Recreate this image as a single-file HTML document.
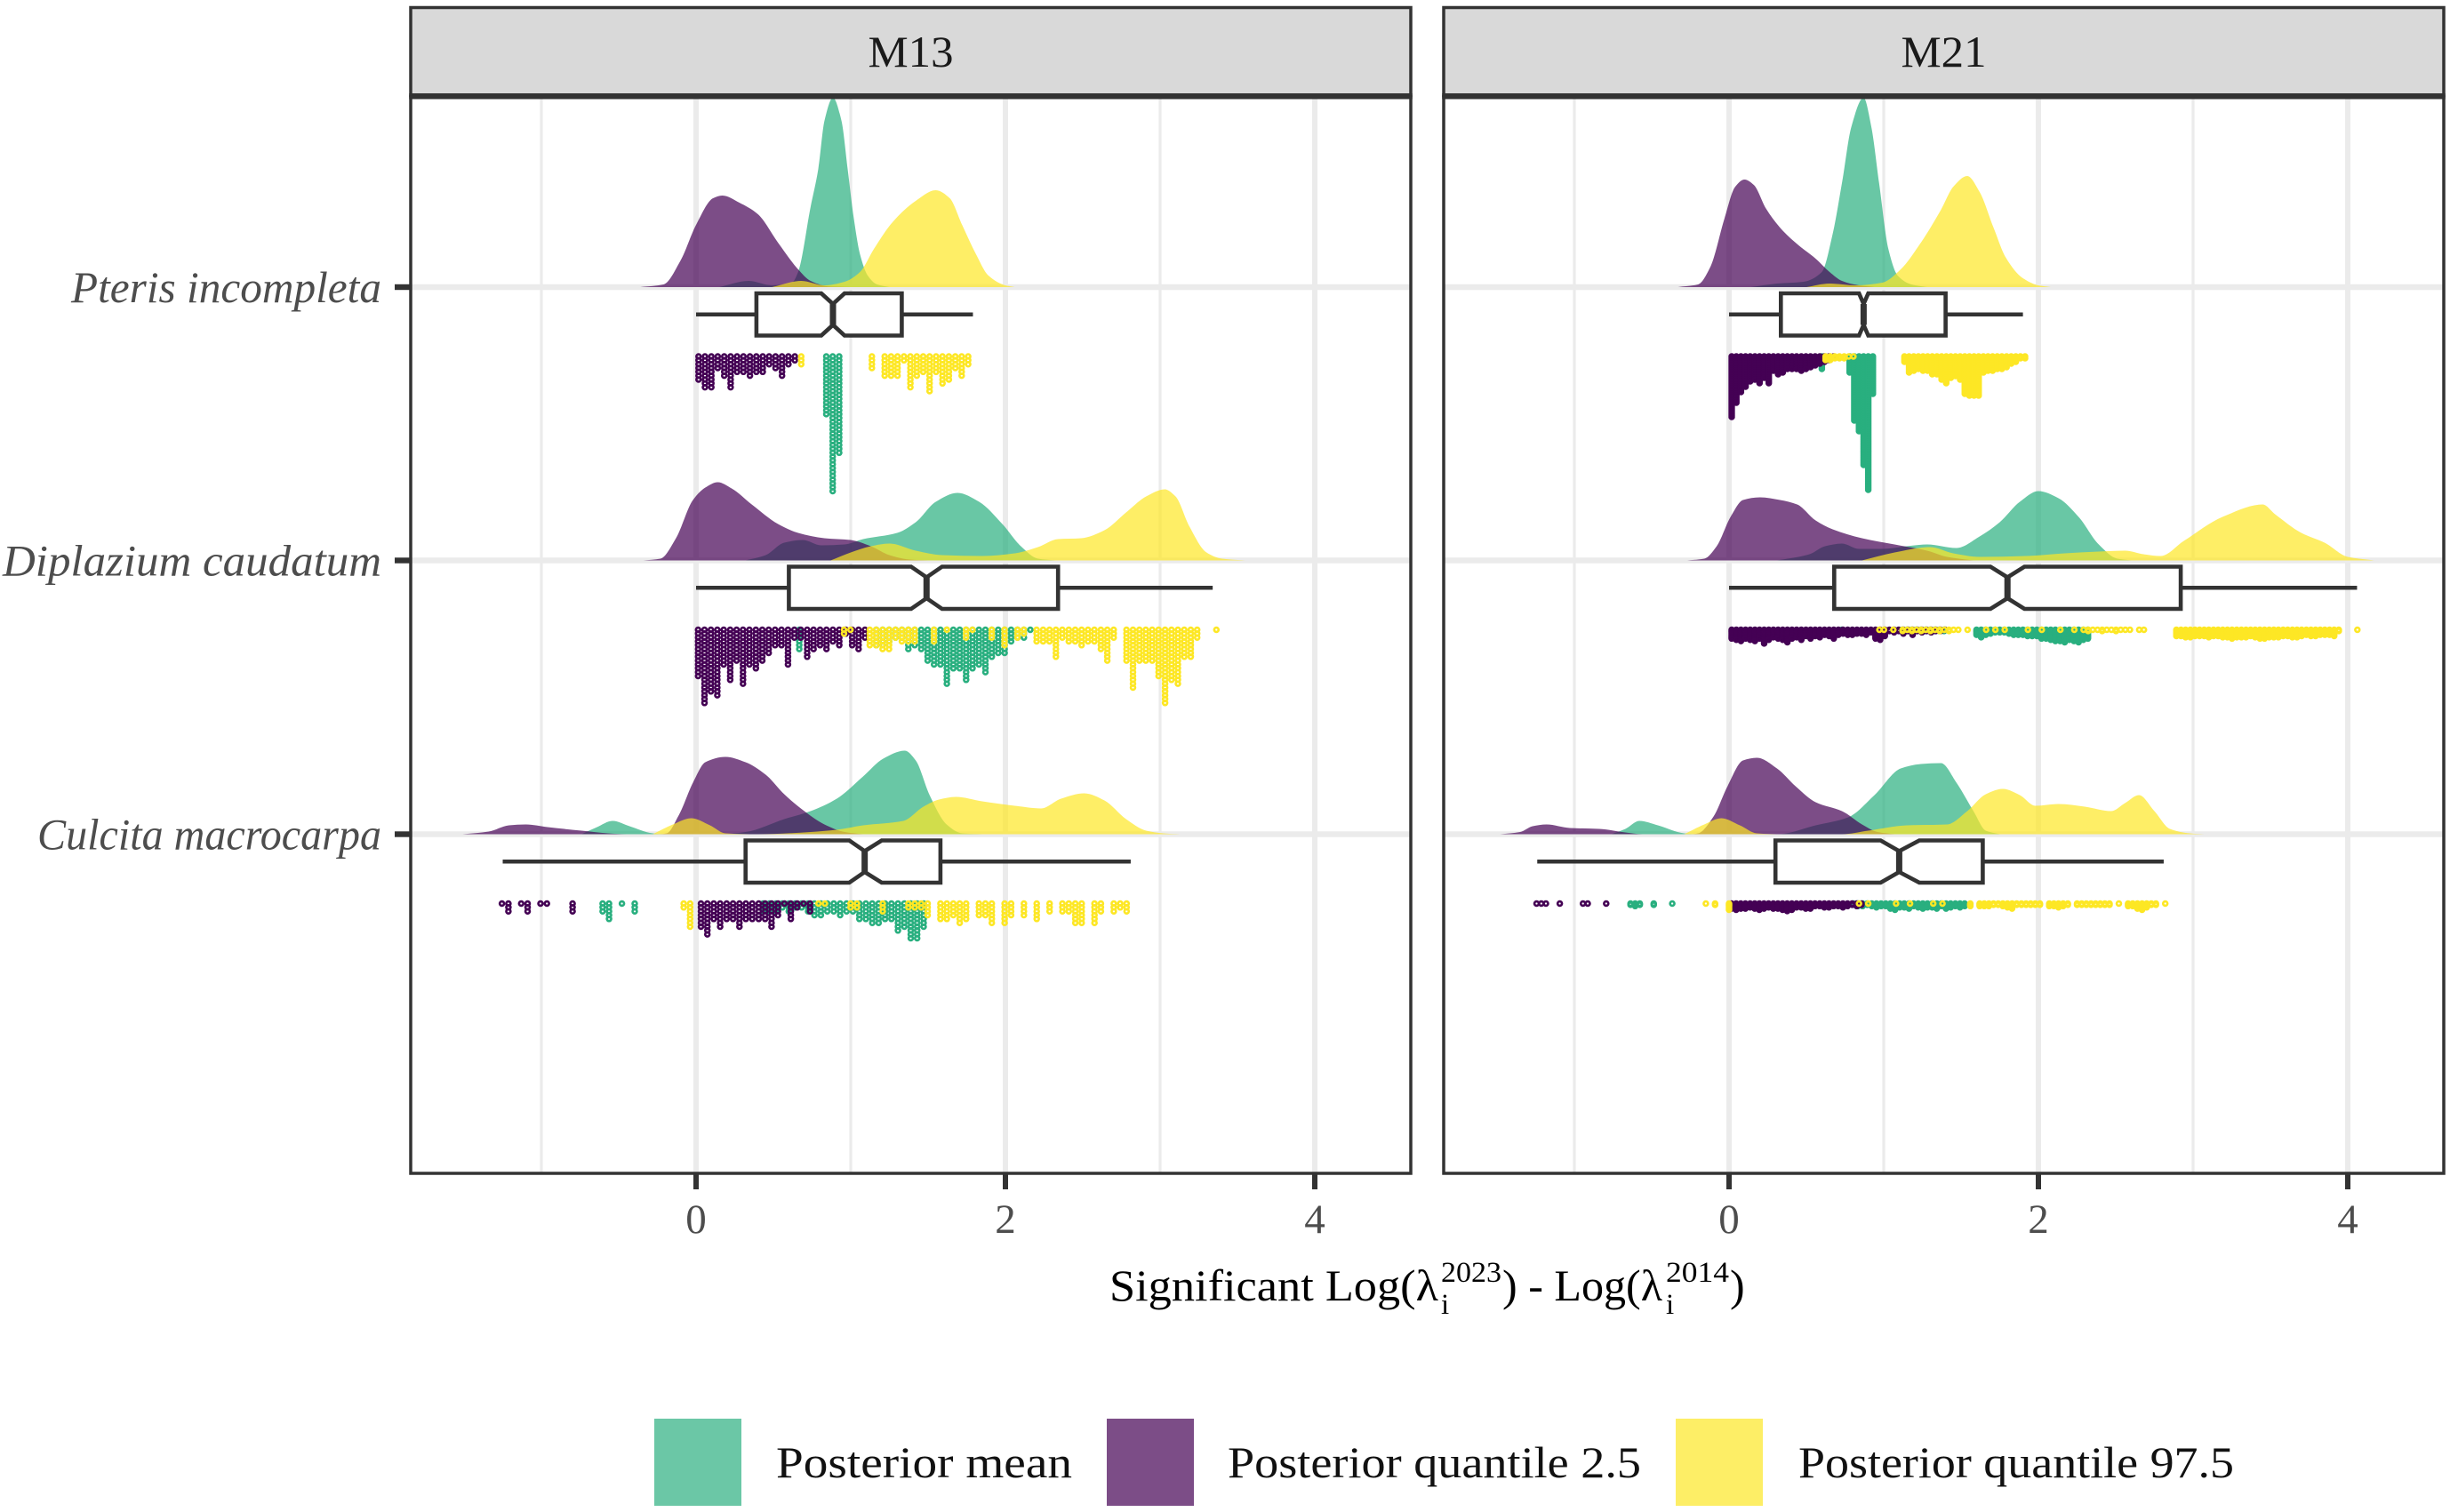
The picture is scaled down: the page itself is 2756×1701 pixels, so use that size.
<!DOCTYPE html>
<html lang="en">
<head>
<meta charset="utf-8">
<title>Significant log lambda differences by species and model</title>
<style>
html,body{margin:0;padding:0;background:#fff;}
svg{display:block;}
text{font-family:"Liberation Serif","DejaVu Serif",serif;}
</style>
</head>
<body>
<svg id="chart" xmlns="http://www.w3.org/2000/svg" width="2756" height="1701" viewBox="0 0 2756 1701">
  <rect x="0" y="0" width="2756" height="1701" fill="#ffffff"/>
  <g id="panels"></g>
  <text x="1248" y="1463" font-size="50" fill="#000" textLength="370" lengthAdjust="spacingAndGlyphs">Significant Log(λ</text>
  <text x="1621" y="1442" font-size="33" fill="#000" textLength="68" lengthAdjust="spacingAndGlyphs">2023</text>
  <text x="1621" y="1478" font-size="33" fill="#000">i</text>
  <text x="1690" y="1463" font-size="50" fill="#000" textLength="180" lengthAdjust="spacingAndGlyphs">) - Log(λ</text>
  <text x="1874" y="1442" font-size="33" fill="#000" textLength="71" lengthAdjust="spacingAndGlyphs">2014</text>
  <text x="1874" y="1478" font-size="33" fill="#000">i</text>
  <text x="1946" y="1463" font-size="50" fill="#000">)</text>
  <g>
    <rect x="736" y="1596" width="98" height="98" fill="#6BC7A6"/>
    <text x="873" y="1662" font-size="50" fill="#111" textLength="333" lengthAdjust="spacingAndGlyphs">Posterior mean</text>
    <rect x="1245" y="1596" width="98" height="98" fill="#7C4D87"/>
    <text x="1381" y="1662" font-size="50" fill="#111" textLength="465" lengthAdjust="spacingAndGlyphs">Posterior quantile 2.5</text>
    <rect x="1885" y="1596" width="98" height="98" fill="#FDEE66"/>
    <text x="2023" y="1662" font-size="50" fill="#111" textLength="490" lengthAdjust="spacingAndGlyphs">Posterior quantile 97.5</text>
  </g>
</svg>
<script>
/* ---------- categories ---------- */
const facets = ['M13','M21'];
const speciesNames = ['Pteris incompleta','Diplazium caudatum','Culcita macrocarpa'];
const seriesNames = ['mean','q025','q975'];
const xMajorTicks = [0,2,4];
const xMinorTicks = [-1,1,3];

/* ---------- density curves: x value, ridge height ---------- */
const m13PterisMeanX = [0.15,0.34,0.49,0.62,0.66,0.74,0.79,0.83,0.885,0.94,0.98,1.02,1.06,1.11,1.17,1.25];
const m13PterisMeanH = [0,7,2,5,17,90,133,187,213,187,133,77,37,13,3,0];
const m13PterisLowX = [-0.36,-0.21,-0.1,0,0.11,0.17,0.28,0.4,0.53,0.66,0.74,0.87,1.0];
const m13PterisLowH = [0,3,30,70,100,103,95,82,50,20,7,0.5,0];
const m13PterisHighX = [0.49,0.68,0.83,0.96,1.06,1.15,1.27,1.42,1.55,1.64,1.72,1.81,1.89,2.0,2.06];
const m13PterisHighH = [0,7,2,6,17,43,73,97,109,100,70,37,13,2,0];

const m13DiplaziumMeanX = [0.32,0.45,0.57,0.69,0.81,0.96,1.08,1.3,1.42,1.55,1.69,1.83,1.98,2.1,2.21,2.32];
const m13DiplaziumMeanH = [0,6,20,23,17,18,24,31,43,66,76,66,41,16,2,0];
const m13DiplaziumLowX = [-0.34,-0.23,-0.13,-0.02,0.06,0.14,0.23,0.36,0.53,0.66,0.83,1.0,1.13,1.25,1.38,1.5];
const m13DiplaziumLowH = [0,2,25,68,82,88,81,63,41,31,25,23,16,6,1,0];
const m13DiplaziumHighX = [0.87,1.0,1.13,1.25,1.42,1.59,1.85,2.06,2.21,2.34,2.49,2.64,2.78,2.91,3.03,3.1,3.19,3.3,3.4,3.55];
const m13DiplaziumHighH = [0,9,16,19,11,6,5,8,15,24,25,34,54,72,80,72,38,9,2,0];

const m13CulcitaMeanX = [-0.74,-0.64,-0.54,-0.43,-0.28,-0.19,0.15,0.32,0.57,0.74,0.91,1.08,1.21,1.35,1.42,1.51,1.62,1.72,1.85];
const m13CulcitaMeanH = [0,8,15,9,1,0,0,2.5,17,26,40,65,85,94,83,44,11,1,0];
const m13CulcitaLowX = [-1.51,-1.34,-1.21,-1.1,-0.96,-0.74,-0.57,-0.45,-0.24,-0.19,-0.11,-0.02,0.06,0.19,0.32,0.45,0.57,0.7,0.83,0.96,1.08];
const m13CulcitaLowH = [0,3,10,11,8,4,1,0,0,1,22,58,81,87,81,67,45,26,11,2.5,0];
const m13CulcitaHighX = [-0.28,-0.15,-0.03,0.09,0.19,0.4,0.74,0.91,1.08,1.34,1.47,1.57,1.68,1.85,2.06,2.23,2.36,2.51,2.64,2.78,2.91,3.02,3.13];
const m13CulcitaHighH = [0,11,18,10,1,0,2.5,5,10,15,31,39,42,37,32,29,40,46,38,17,4,1,0];

const m21PterisMeanX = [0.14,0.31,0.48,0.6,0.67,0.73,0.79,0.87,0.92,0.97,1.03,1.09,1.18,1.28];
const m21PterisMeanH = [0,4,6,17,60,117,180,213,180,117,43,13,3,0];
const m21PterisLowX = [-0.33,-0.2,-0.12,-0.03,0.04,0.1,0.16,0.24,0.35,0.45,0.56,0.65,0.73,0.84,0.94];
const m21PterisLowH = [0,3,23,77,113,121,115,88,63,47,32,17,7,2,0];
const m21PterisHighX = [0.5,0.65,0.82,0.99,1.11,1.24,1.37,1.45,1.54,1.62,1.71,1.79,1.9,2.0,2.08];
const m21PterisHighH = [0,4,2,5,20,50,87,113,125,107,67,33,10,2,0];

const m21DiplaziumMeanX = [0.31,0.52,0.62,0.73,0.84,0.99,1.15,1.28,1.47,1.62,1.75,1.88,2.0,2.13,2.26,2.39,2.51,2.6];
const m21DiplaziumMeanH = [0,7,16,19,13,13,16,18,14,27,43,66,78,70,49,18,2,0];
const m21DiplaziumLowX = [-0.27,-0.16,-0.08,0.01,0.09,0.2,0.33,0.44,0.56,0.67,0.86,1.07,1.28,1.41,1.58];
const m21DiplaziumLowH = [0,2,16,49,68,71,68,63,45,35,25,18,11,4,0];
const m21DiplaziumHighX = [0.86,1.07,1.3,1.45,1.62,1.92,2.17,2.39,2.56,2.68,2.79,2.94,3.19,3.45,3.53,3.7,3.85,4.0,4.17];
const m21DiplaziumHighH = [0,9,15,8,4,5,8,10,11,7,5,22,49,63,52,31,20,4,0];

const m21CulcitaMeanX = [-0.76,-0.67,-0.58,-0.46,-0.29,-0.2,0.31,0.56,0.77,0.94,1.11,1.24,1.37,1.47,1.58,1.66,1.75];
const m21CulcitaMeanH = [0,6,15,10,1,0,0,10,19,44,74,79,80,58,26,4,0];
const m21CulcitaLowX = [-1.48,-1.35,-1.27,-1.18,-1.03,-0.84,-0.67,-0.56,-0.25,-0.2,-0.1,-0.01,0.09,0.18,0.31,0.43,0.56,0.73,0.86,0.96,1.07];
const m21CulcitaLowH = [0,2.5,9,11,7,6,2,0,0,1,20,54,83,86,74,54,36,26,11,2.5,0];
const m21CulcitaHighX = [-0.29,-0.16,-0.05,0.07,0.18,0.35,0.73,0.9,1.15,1.41,1.54,1.66,1.77,1.88,1.98,2.13,2.3,2.47,2.56,2.65,2.75,2.85,2.98,3.07];
const m21CulcitaHighH = [0,11,18,10,1,0,0,4,10,11,26,45,51,44,32,34,31,26,35,44,26,6,1,0];

/* ---------- boxplots: low whisker, Q1, notch low, median, notch high, Q3, high whisker ---------- */
const m13PterisBox = [0,0.39,0.81,0.885,0.96,1.33,1.79];
const m13DiplaziumBox = [0,0.6,1.39,1.49,1.59,2.34,3.34];
const m13CulcitaBox = [-1.25,0.32,0.99,1.09,1.2,1.58,2.81];
const m21PterisBox = [0,0.335,0.84,0.87,0.9,1.4,1.9];
const m21DiplaziumBox = [0,0.68,1.69,1.8,1.91,2.92,4.06];
const m21CulcitaBox = [-1.24,0.3,0.98,1.1,1.23,1.64,2.81];

/* ---------- dot stacks: first bin value, then dot count per bin ---------- */
const m13PterisMeanDotStart = 0.842;
const m13PterisMeanDots = [16,36,26];
const m13PterisLowDotStart = 0.016;
const m13PterisLowDots = [7,9,9,4,6,9,5,5,6,5,5,3,4,6,3,2];
const m13PterisHighDotStart = 0.68;
const m13PterisHighDots = [3,0,0,0,0,0,0,0,0,0,0,4,0,6,6,6,2,9,6,5,10,5,8,7,4,6,3];

const m13DiplaziumMeanDotStart = 0.667;
const m13DiplaziumMeanDots = [6,0,0,0,0,0,0,0,0,0,0,0,5,5,4,3,3,6,5,6,9,10,10,15,11,11,14,11,10,12,8,7,7,4,3,3,1];
const m13DiplaziumLowDotStart = 0.013;
const m13DiplaziumLowDots = [13,20,17,18,10,14,9,15,10,11,9,7,5,5,10,3,3,8,6,5,6,4,5,2,5,6,3];
const m13DiplaziumHighDotStart = 0.957;
const m13DiplaziumHighDots = [2,1,0,0,5,5,6,6,3,4,4,4,0,0,4,0,1,0,0,3,1,0,0,3,0,5,0,3,2,0,4,4,4,8,3,4,4,5,4,4,6,9,3,0,9,16,9,9,9,13,20,14,15,8,8,3,0,0,1];

const m13CulcitaMeanDotStart = -0.604;
const m13CulcitaMeanDots = [3,5,0,1,0,3,0,0,0,0,0,0,0,0,0,0,0,0,0,0,0,0,0,0,0,3,3,3,2,3,2,2,3,4,4,3,3,4,3,3,5,5,6,6,5,5,8,7,10,10,7];
const m13CulcitaLowDotStart = -1.255;
const m13CulcitaLowDots = [1,3,0,1,3,0,1,1,0,0,0,3,0,0,0,0,0,0,0,0,0,0,0,0,0,0,0,0,0,0,0,7,9,5,7,5,5,7,5,5,5,5,7,4,1,5,2,1,3];
const m13CulcitaHighDotStart = -0.08;
const m13CulcitaHighDots = [2,7,0,0,0,0,0,0,0,0,0,0,0,0,0,0,0,0,0,0,0,1,1,0,0,0,2,2,0,0,0,3,0,0,0,2,2,2,4,0,5,5,4,6,5,0,4,4,6,0,6,4,0,4,0,5,0,3,0,3,3,6,6,0,6,3,0,3,2,3];

const m21PterisMeanDotStart = 0.6;
const m21PterisMeanDots = [8,0,0,0,0,0,10,37,43,62,76,22];
const m21PterisLowDotStart = 0.017;
const m21PterisLowDots = [35,27,21,18,15,14,16,13,16,9,11,10,8,8,8,9,8,7,6,5,4,3,1];
const m21PterisHighDotStart = 0.624;
const m21PterisHighDots = [3,3,2,2,2,1,1,0,0,0,0,0,0,0,0,0,0,4,10,9,8,9,9,11,11,14,16,13,12,14,22,23,23,23,10,9,9,8,8,7,5,4,2,2];

const m21DiplaziumMeanDotStart = 0.73;
const m21DiplaziumMeanDots = [2,0,0,0,0,0,0,0,0,0,0,0,0,2,2,2,2,2,2,2,2,2,2,0,0,0,0,0,0,5,7,5,4,3,3,3,4,5,5,5,6,6,6,8,8,9,10,10,11,9,10,11,9,8];
const m21DiplaziumLowDotStart = 0.017;
const m21DiplaziumLowDots = [8,9,10,8,9,10,8,12,9,7,8,9,11,8,7,9,6,8,6,7,5,6,8,5,4,5,5,4,4,5,3,8,9,6,2,3,2,4,2,5,2,3,2,3,2,2,1];
const m21DiplaziumHighDotStart = 0.972;
const m21DiplaziumHighDots = [1,1,0,1,0,2,1,2,1,2,1,2,1,2,1,2,1,1,0,1,0,0,0,1,0,1,0,1,0,0,0,0,1,0,0,1,0,0,0,1,0,0,1,0,1,2,1,1,2,1,1,2,1,1,1,0,1,1,0,0,0,0,0,0,6,6,7,7,6,6,6,7,6,6,7,7,8,7,7,7,6,7,8,8,7,7,7,6,6,7,7,6,5,6,6,5,5,5,6,2,0,0,0,1];

const m21CulcitaMeanDotStart = -0.637;
const m21CulcitaMeanDots = [2,3,2,0,0,2,0,0,0,1,0,0,0,0,0,0,0,0,0,0,0,0,0,0,0,0,0,0,0,0,0,0,0,0,0,0,0,0,0,0,0,0,0,0,0,0,0,0,2,3,3,2,3,4,3,3,5,6,4,4,5,3,4,5,4,4,5,3,5,4,3,4,3];
const m21CulcitaLowDotStart = -1.244;
const m21CulcitaLowDots = [1,1,1,0,0,1,0,0,0,0,1,1,0,0,0,1,0,0,0,0,0,0,0,0,0,0,0,0,0,0,0,0,0,0,0,0,0,0,0,0,0,0,5,6,5,5,4,5,6,5,4,5,5,6,7,6,4,4,5,5,3,3,4,4,3,3,4,3,2,3,2];
const m21CulcitaHighDotStart = -0.15;
const m21CulcitaHighDots = [1,0,2,0,0,6,0,0,0,0,0,0,0,0,0,0,0,0,0,0,0,0,0,0,0,0,0,0,0,0,0,0,0,1,0,1,0,0,0,0,0,1,0,0,1,0,0,0,0,1,0,1,0,0,0,0,0,3,0,3,3,3,2,2,3,4,5,2,2,2,2,2,2,0,3,3,4,3,2,0,2,2,2,2,2,2,2,2,0,1,0,3,3,5,6,4,2,2,0,1];

/* ---------- lookup tables referencing the arrays above ---------- */
const curveTable = [
  [[[m13PterisMeanX,m13PterisMeanH],[m13PterisLowX,m13PterisLowH],[m13PterisHighX,m13PterisHighH]],
   [[m13DiplaziumMeanX,m13DiplaziumMeanH],[m13DiplaziumLowX,m13DiplaziumLowH],[m13DiplaziumHighX,m13DiplaziumHighH]],
   [[m13CulcitaMeanX,m13CulcitaMeanH],[m13CulcitaLowX,m13CulcitaLowH],[m13CulcitaHighX,m13CulcitaHighH]]],
  [[[m21PterisMeanX,m21PterisMeanH],[m21PterisLowX,m21PterisLowH],[m21PterisHighX,m21PterisHighH]],
   [[m21DiplaziumMeanX,m21DiplaziumMeanH],[m21DiplaziumLowX,m21DiplaziumLowH],[m21DiplaziumHighX,m21DiplaziumHighH]],
   [[m21CulcitaMeanX,m21CulcitaMeanH],[m21CulcitaLowX,m21CulcitaLowH],[m21CulcitaHighX,m21CulcitaHighH]]]
];
const boxTable = [[m13PterisBox,m13DiplaziumBox,m13CulcitaBox],[m21PterisBox,m21DiplaziumBox,m21CulcitaBox]];
const dotTable = [
  [[[m13PterisMeanDotStart,m13PterisMeanDots],[m13PterisLowDotStart,m13PterisLowDots],[m13PterisHighDotStart,m13PterisHighDots]],
   [[m13DiplaziumMeanDotStart,m13DiplaziumMeanDots],[m13DiplaziumLowDotStart,m13DiplaziumLowDots],[m13DiplaziumHighDotStart,m13DiplaziumHighDots]],
   [[m13CulcitaMeanDotStart,m13CulcitaMeanDots],[m13CulcitaLowDotStart,m13CulcitaLowDots],[m13CulcitaHighDotStart,m13CulcitaHighDots]]],
  [[[m21PterisMeanDotStart,m21PterisMeanDots],[m21PterisLowDotStart,m21PterisLowDots],[m21PterisHighDotStart,m21PterisHighDots]],
   [[m21DiplaziumMeanDotStart,m21DiplaziumMeanDots],[m21DiplaziumLowDotStart,m21DiplaziumLowDots],[m21DiplaziumHighDotStart,m21DiplaziumHighDots]],
   [[m21CulcitaMeanDotStart,m21CulcitaMeanDots],[m21CulcitaLowDotStart,m21CulcitaLowDots],[m21CulcitaHighDotStart,m21CulcitaHighDots]]]
];

/* ---------- axis functions ---------- */
const NS = 'http://www.w3.org/2000/svg';
const root = document.getElementById('panels');
const panelLeftPx = [462,1624];
const panelWidthPx = 1125;
const panelTopPx = 111;
const panelBottomPx = 1320;
const zeroPx = [783,1945];
const unitPx = 174;
const rowPx = [323,630.5,938.5];
const fillColors = ['#29AF7F','#440154','#FDE725'];
const dotBinStep = [0.0415,0.03];
const dotRowStep = [[4.33,4.33,4.33],[2,1.4,1.4]];
function xScale(p,v){return zeroPx[p]+v*unitPx;}
function yRow(r){return rowPx[r];}
function yRidge(r,h){return yRow(r)-h;}

function mk(tag,attrs,parent){
  const el=document.createElementNS(NS,tag);
  for(const k in attrs){el.setAttribute(k,attrs[k]);}
  parent.appendChild(el);
  return el;
}
function monotonePath(px,py){
  const n=px.length,m=new Array(n).fill(0),s=[];
  for(let i=0;i<n-1;i++){s.push((py[i+1]-py[i])/(px[i+1]-px[i]));}
  m[0]=s[0];m[n-1]=s[n-2];
  for(let i=1;i<n-1;i++){
    if(s[i-1]*s[i]<=0){m[i]=0;}
    else{
      const h0=px[i]-px[i-1],h1=px[i+1]-px[i];
      m[i]=3*(h0+h1)/((2*h1+h0)/s[i-1]+(h1+2*h0)/s[i]);
    }
  }
  let d='M'+px[0].toFixed(1)+','+py[0].toFixed(1);
  for(let i=0;i<n-1;i++){
    const h=(px[i+1]-px[i])/3;
    d+='C'+(px[i]+h).toFixed(1)+','+(py[i]+m[i]*h).toFixed(1)+' '+(px[i+1]-h).toFixed(1)+','+(py[i+1]-m[i+1]*h).toFixed(1)+' '+px[i+1].toFixed(1)+','+py[i+1].toFixed(1);
  }
  return d;
}

/* ---------- y-axis labels ---------- */
const yLabelLengths = [349,426,387];
speciesNames.forEach(function(name,r){
  const t=mk('text',{x:429-yLabelLengths[r],y:yRow(r)+17,'font-size':50,'font-style':'italic',fill:'#4D4D4D',textLength:yLabelLengths[r],lengthAdjust:'spacingAndGlyphs'},root);
  
  
  t.textContent=name;
  const tick=mk('rect',{x:444,y:yRow(r)-3.2,width:18,height:6.4,fill:'#333333'},root);
  
  
});

facets.forEach(function(facet,p){
  const L=panelLeftPx[p],R=L+panelWidthPx;
  const g=mk('g',{},root);
  
  

  /* grid */
  xMinorTicks.forEach(function(v){
    const l=mk('line',{x1:xScale(p,v),x2:xScale(p,v),y1:panelTopPx,y2:panelBottomPx,stroke:'#EBEBEB','stroke-width':3.2},g);
    
    
  });
  xMajorTicks.forEach(function(v){
    const l=mk('line',{x1:xScale(p,v),x2:xScale(p,v),y1:panelTopPx,y2:panelBottomPx,stroke:'#EBEBEB','stroke-width':6},g);
    
    
  });
  speciesNames.forEach(function(name,r){
    const l=mk('line',{x1:L,x2:R,y1:yRow(r),y2:yRow(r),stroke:'#EBEBEB','stroke-width':6.5},g);
    
    
  });

  speciesNames.forEach(function(name,r){
    /* densities */
    seriesNames.forEach(function(sn,s){
      const xs=curveTable[p][r][s][0],hs=curveTable[p][r][s][1];
      const px=xs.map(function(v){return xScale(p,v);});
      const py=hs.map(function(h){return yRidge(r,h);});
      const d=monotonePath(px,py)+'L'+px[px.length-1].toFixed(1)+','+yRow(r)+'L'+px[0].toFixed(1)+','+yRow(r)+'Z';
      const a=mk('path',{d:d,fill:fillColors[s],'fill-opacity':0.7},g);
      
      
    });

    /* boxplot */
    const b=boxTable[p][r];
    const top=yRow(r)+7,bot=yRow(r)+54.5,mid=yRow(r)+30.7,wT=top+12,wB=bot-12;
    const wl=mk('line',{x1:xScale(p,b[0]),x2:xScale(p,b[1]),y1:mid,y2:mid,stroke:'#333333','stroke-width':4.5},g);
    
    
    const wh=mk('line',{x1:xScale(p,b[5]),x2:xScale(p,b[6]),y1:mid,y2:mid,stroke:'#333333','stroke-width':4.5},g);
    
    
    const pts=[[b[1],top],[b[2],top],[b[3],wT],[b[4],top],[b[5],top],[b[5],bot],[b[4],bot],[b[3],wB],[b[2],bot],[b[1],bot]];
    const poly=mk('polygon',{points:pts.map(function(q){return xScale(p,q[0]).toFixed(1)+','+q[1];}).join(' '),fill:'#ffffff',stroke:'#333333','stroke-width':4.6},g);
    
    
    const med=mk('line',{x1:xScale(p,b[3]),x2:xScale(p,b[3]),y1:wT,y2:wB,stroke:'#333333','stroke-width':7},g);
    
    

    /* dots */
    seriesNames.forEach(function(sn,s){
      const start=dotTable[p][r][s][0],counts=dotTable[p][r][s][1];
      const dg=mk('g',{fill:'none',stroke:fillColors[s],'stroke-width':2.6},g);
      
      
      counts.forEach(function(n,k){
        const cx=xScale(p,start+k*dotBinStep[p]);
        for(let i=0;i<n;i++){
          const c=mk('circle',{cx:cx.toFixed(1),cy:(yRow(r)+78+i*dotRowStep[p][r]).toFixed(1),r:2.45},dg);
          
          
        }
      });
    });
  });

  /* strip */
  const strip=mk('rect',{x:L,y:8.5,width:panelWidthPx,height:99,fill:'#D9D9D9',stroke:'#333333','stroke-width':3.5},g);
  
  
  const band=mk('rect',{x:L-1.75,y:105,width:panelWidthPx+3.5,height:6.5,fill:'#333333'},g);
  
  
  const st=mk('text',{x:L+panelWidthPx/2,y:75,'text-anchor':'middle','font-size':50,fill:'#1A1A1A',textLength:96,lengthAdjust:'spacingAndGlyphs'},g);
  
  
  st.textContent=facet;

  /* panel border */
  const border=mk('rect',{x:L,y:panelTopPx-2,width:panelWidthPx,height:panelBottomPx-panelTopPx+2,fill:'none',stroke:'#333333','stroke-width':3.5},g);
  
  

  /* x ticks */
  xMajorTicks.forEach(function(v){
    const tk=mk('rect',{x:xScale(p,v)-3,y:panelBottomPx+1,width:6,height:17,fill:'#333333'},g);
    
    
    const lb=mk('text',{x:xScale(p,v),y:1387,'text-anchor':'middle','font-size':47,fill:'#4D4D4D'},g);
    
    
    lb.textContent=String(v);
  });
});
</script>
</body>
</html>
